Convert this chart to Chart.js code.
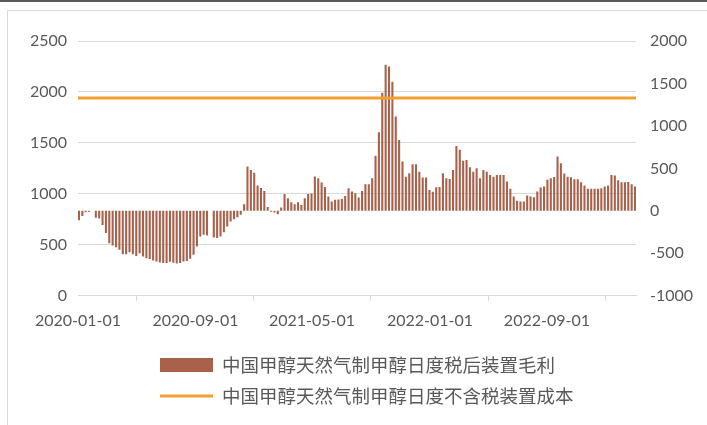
<!DOCTYPE html>
<html>
<head>
<meta charset="utf-8">
<script src="https://cdn.jsdelivr.net/npm/chart.js@4.4.0/dist/chart.umd.min.js"></script>
<style>
  html, body { margin: 0; padding: 0; background: #fff; }
  body { width: 707px; height: 425px; position: relative; overflow: hidden; }
  #topBar { position: absolute; left: 0; top: 0; width: 707px; height: 2px; background: #5a5a5a; }
  #frame { position: absolute; left: 7px; top: 10px; width: 720px; height: 440px; border: 1px solid #d9d9d9; }
  #wrap { position: absolute; left: 0; top: 0; width: 707px; height: 425px; }
</style>
</head>
<body>
<div id="topBar"></div>
<div id="frame"></div>
<div id="wrap"><canvas id="chart"></canvas></div>
<script>
// weekly series, first week 2020-01-03
const firstWeek = '2020-01-03';
const axisStart = '2020-01-01';
const axisEnd = '2023-03-05';
const tickLabels = ['2020-01-01', '2020-09-01', '2021-05-01', '2022-01-01', '2022-09-01'];

// 中国甲醇天然气制甲醇日度税后装置毛利 (right axis)
const marginValues = [
    -110, -60, -15, -10, null, -80, -90, -165, -262, -380,
    -408, -427, -459, -510, -510, -486, -510, -530, -498, -537,
    -557, -568, -584, -596, -608, -615, -615, -600, -610, -620,
    -615, -596, -590, -565, -517, -420, -302, -282, -290, null,
    -314, -320, -302, -251, -184, -125, -98, -75, -47, 78,
    521, 482, 450, 300, 270, 235, 45, -10, -20, -40,
    40, 200, 149, 100, 78, 100, 70, 150, 200, 205,
    404, 385, 333, 282, 170, 110, 130, 135, 140, 175,
    267, 227, 208, 157, 235, 313, 313, 384, 650, 925,
    1390, 1720, 1700, 1520, 1110, 835, 580, 403, 443, 549,
    549, 462, 392, 392, 247, 225, 279, 280, 443, 384,
    375, 480, 765, 720, 590, 600, 514, 462, 502, 384,
    482, 462, 423, 403, 423, 423, 423, 345, 260, 170,
    118, 110, 110, 180, 170, 160, 227, 274, 286, 365,
    384, 400, 640, 560, 440, 403, 396, 372, 372, 337,
    300, 259, 259, 259, 259, 265, 286, 298, 423, 416,
    360, 337, 337, 340, 313, 286
];

// 中国甲醇天然气制甲醇日度不含税装置成本 (left axis)
const costDates = ['2020-01-01', '2023-03-05'];
const costValues = [1940, 1940];

const barColor = '#A8614A';
const lineColor = '#F0A02E';
const textColor = '#595959';
const gridColor = '#d9d9d9';

function dayOf(d) {
    return Math.round((Date.parse(d) - Date.parse(axisStart)) / 86400000);
}

const firstDay = dayOf(firstWeek);
const barData = marginValues.map((v, i) => ({ x: firstDay + 7 * i, y: v }));
const lineData = costDates.map((d, i) => ({ x: dayOf(d), y: costValues[i] }));
const tickDays = tickLabels.map(dayOf);

const tickFont = { family: 'Lato', size: 16 };

// legend drawn in two rows like the original
const legendPlugin = {
    id: 'twoRowLegend',
    afterDraw(chart) {
        const ctx = chart.ctx;
        const sets = chart.data.datasets;
        const rows = [sets[1], sets[0]];
        ctx.save();
        ctx.font = '18.5px "Noto Sans CJK SC"';
        ctx.textBaseline = 'middle';
        rows.forEach((ds, r) => {
            const y = 365 + r * 31;
            if (ds.type === 'line') {
                ctx.strokeStyle = ds.borderColor;
                ctx.lineWidth = 3;
                ctx.beginPath();
                ctx.moveTo(160, y);
                ctx.lineTo(213, y);
                ctx.stroke();
            } else {
                ctx.fillStyle = ds.backgroundColor;
                ctx.fillRect(160, y - 7, 53, 14);
            }
            ctx.fillStyle = textColor;
            ctx.fillText(ds.label, 222, y);
        });
        ctx.restore();
    }
};

new Chart(document.getElementById('chart'), {
    type: 'bar',
    data: {
        datasets: [{
            type: 'line',
            label: '中国甲醇天然气制甲醇日度不含税装置成本',
            data: lineData,
            yAxisID: 'y',
            borderColor: lineColor,
            borderWidth: 3,
            pointRadius: 0,
            order: 0
        }, {
            type: 'bar',
            label: '中国甲醇天然气制甲醇日度税后装置毛利',
            data: barData,
            yAxisID: 'y1',
            backgroundColor: barColor,
            barPercentage: 0.62,
            categoryPercentage: 1.0,
            order: 1
        }]
    },
    options: {
        responsive: true,
        maintainAspectRatio: false,
        animation: false,
        layout: { padding: { left: 31, right: 14, top: 41, bottom: 85 } },
        plugins: {
            legend: { display: false },
            tooltip: { enabled: false }
        },
        scales: {
            x: {
                type: 'linear',
                min: 0,
                max: dayOf(axisEnd),
                offset: false,
                afterBuildTicks: scale => {
                    scale.ticks = tickDays.map(v => ({ value: v }));
                },
                afterFit: scale => {
                    scale.paddingLeft = 0;
                    scale.paddingRight = 0;
                },
                grid: { drawOnChartArea: false, drawTicks: true, tickLength: 5, color: gridColor },
                border: { color: gridColor },
                ticks: {
                    autoSkip: false,
                    maxRotation: 0,
                    padding: 10,
                    color: textColor,
                    font: tickFont,
                    callback: v => tickLabels[tickDays.indexOf(v)] || ''
                }
            },
            y: {
                position: 'left',
                min: 0,
                max: 2500,
                afterFit: scale => { scale.width = 47; },
                ticks: { stepSize: 500, padding: 11, color: textColor, font: tickFont, callback: v => String(v) },
                grid: { color: gridColor, drawTicks: false },
                border: { display: false }
            },
            y1: {
                position: 'right',
                min: -1000,
                max: 2000,
                afterFit: scale => { scale.width = 57; },
                ticks: { stepSize: 500, padding: 14, color: textColor, font: tickFont, callback: v => String(v) },
                grid: { display: false, drawTicks: false },
                border: { display: false }
            }
        }
    },
    plugins: [legendPlugin]
});
</script>
</body>
</html>
